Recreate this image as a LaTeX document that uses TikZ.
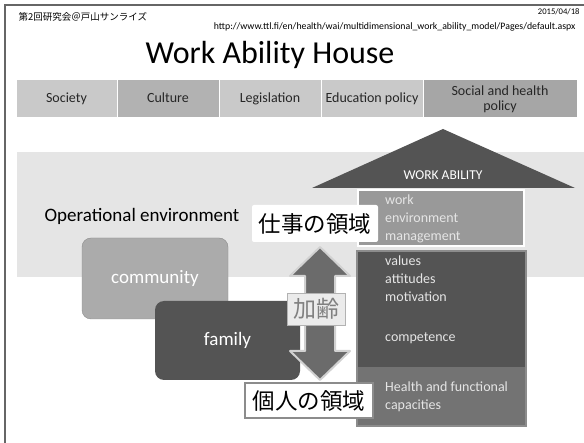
\documentclass[tikz,border=0pt]{standalone}
\usepackage{fontspec}
\setmainfont{Carlito}
\newfontfamily\jpfont{Noto Sans CJK JP}

\begin{document}
\begin{tikzpicture}
[x=1pt,y=-1pt,
 barbox/.style={draw=white,line width=1pt,minimum height=38,inner sep=0,
   text height=10,text depth=3,
   font=\fontsize{14}{15}\selectfont,text=black!85,align=center},
 tagbox/.style={rectangle,minimum height=36,inner sep=0,fill=white,
   font=\jpfont\fontsize{22.5}{24}\selectfont},
 housetext/.style={anchor=west,align=left,text=white!90!black,inner sep=0,
   font=\fontsize{14}{18}\selectfont}]
\useasboundingbox (0,0) rectangle (584,443);
\draw[line width=1.2pt,color=black!60] (5,443) -- (5,5) -- (584,5);

\node[anchor=west,font=\jpfont\fontsize{9.5}{10}\selectfont] (meeting) at (15,17) {第2回研究会＠戸山サンライズ};
\node[anchor=east,font=\fontsize{8.6}{9}\selectfont] (date) at (583,12) {2015/04/18};
\node[anchor=east,font=\fontsize{9.8}{10}\selectfont] (url) at (579,27)
 {http://www.ttl.fi/en/health/wai/multidimensional\_work\_ability\_model/Pages/default.aspx};
\node[font=\fontsize{32}{34}\selectfont] (title) at (270,55) {Work Ability House};

\node[barbox,fill=black!21,minimum width=101] (society) at (66.5,99) {Society};
\node[barbox,fill=black!30,minimum width=102] (culture) at (168,99) {Culture};
\node[barbox,fill=black!21,minimum width=102] (legislation) at (270,99) {Legislation};
\node[barbox,fill=black!21,minimum width=102] (education) at (372,99) {Education policy};
\node[barbox,text height={},text depth={},fill=black!35,minimum width=154] (social) at (500,99) {Social and health\\policy};

\fill[black!10] (17,152) rectangle (584,277);
\node[font=\fontsize{19}{21}\selectfont] (openv) at (142,216) {Operational environment};

\node[rounded corners=9,fill=black!33,draw=black!45,minimum width=146,minimum height=81,
 text=white,font=\fontsize{19}{21}\selectfont] (community) at (155,278.5) {community};
\node[rounded corners=9,fill=black!67,minimum width=145,minimum height=79,
 text=white,font=\fontsize{19}{21}\selectfont] (family) at (227.5,340.5) {family};

\filldraw[fill=black!58,draw=black!18,line width=2pt,line join=round]
 (320,247) -- (350,276) -- (335,276) -- (335,351) -- (350,351) -- (320,380)
 -- (290,351) -- (305,351) -- (305,276) -- (290,276) -- cycle;
\node[draw=black!30,fill=black!8,minimum width=58,minimum height=32,inner sep=0,
 text=black!50,font=\jpfont\fontsize{23}{24}\selectfont] (aging) at (316,309) {加齢};

\fill[black!67] (312,188) -- (443,129) -- (575,188) -- cycle;
\node[text=white,font=\fontsize{13.5}{15}\selectfont] (roof) at (443,175) {WORK ABILITY};

\node[draw=white,line width=2pt,fill=black!40,minimum width=166,minimum height=56]
 (workbox) at (441,218.5) {};
\node[housetext] (worktext) at (385,219) {work\\environment\\management};

\node[draw=black!45,line width=1.5pt,fill=black!67,minimum width=169,minimum height=175]
 (personbox) at (441.5,338.5) {};
\fill[black!55] (357.75,367) rectangle (525.25,425.25);
\node[housetext] (values) at (385,279) {values\\attitudes\\motivation};
\node[housetext] (competence) at (385,338) {competence};
\node[housetext] (health) at (385,397) {Health and functional\\capacities};

\node[tagbox,rounded corners=2,minimum width=126,minimum height=37] (worklabel) at (315,223.5) {仕事の領域};
\node[tagbox,draw=black!45,line width=1.5pt,minimum width=128,minimum height=35] (personlabel) at (309,400.5) {個人の領域};
\end{tikzpicture}
\end{document}
